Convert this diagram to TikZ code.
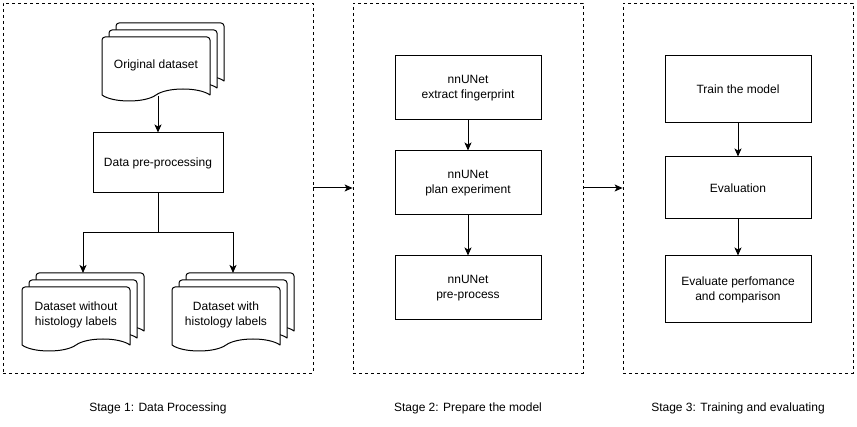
\documentclass[tikz,border=0pt]{standalone}
\usepackage{fontspec}
\setmainfont{Liberation Sans}
\usetikzlibrary{arrows.meta}
\tikzset{
  stagebox/.style={draw, line width=0.8pt, dash pattern=on 3pt off 3pt, inner sep=0pt},
  procbox/.style={draw, line width=1pt, fill=white, align=center, inner sep=0pt, font=\fontsize{12}{15}\selectfont},
  txt/.style={align=center, inner sep=0pt, font=\fontsize{12}{15}\selectfont},
  lbl/.style={inner sep=0pt, font=\fontsize{12}{15}\selectfont},
  docstyle/.style={draw, fill=white, line width=1pt, line join=round},
  conn/.style={line width=1pt},
  arr/.style={line width=1pt, -{Stealth[length=8pt,width=7pt,inset=2pt]}}
}
% one document shape: x y (top-left, pixels, y down), w h
\newcommand\onedoc[4]{%
  \filldraw[docstyle] ({#1},{-(#2)-(#4)}) -- ({#1},{-(#2)-3})
    arc[start angle=180,end angle=90,radius=3] -- ({(#1)+(#3)-3},{-(#2)})
    arc[start angle=90,end angle=0,radius=3] -- ({(#1)+(#3)},{-(#2)-(#4)})
    .. controls ({(#1)+0.9*(#3)},{-(#2)-(#4)+8}) and ({(#1)+0.6*(#3)},{-(#2)-(#4)+8}) .. ({(#1)+0.5*(#3)},{-(#2)-(#4)})
    .. controls ({(#1)+0.4*(#3)},{-(#2)-(#4)-8}) and ({(#1)+0.1*(#3)},{-(#2)-(#4)-8}) .. ({#1},{-(#2)-(#4)}) -- cycle;}
\newcommand\mdoc[4]{%
  \onedoc{#1+14}{#2-14}{#3}{#4}%
  \onedoc{#1+7}{#2-7}{#3}{#4}%
  \onedoc{#1}{#2}{#3}{#4}}
\begin{document}
\begin{tikzpicture}[x=1pt,y=1pt]
\useasboundingbox (0,0) rectangle (857,-427);
% stages
\node[stagebox, minimum width=310pt, minimum height=370pt] (s1) at (158,-188) {};
\node[stagebox, minimum width=230pt, minimum height=370pt] (s2) at (468,-188) {};
\node[stagebox, minimum width=230pt, minimum height=370pt] (s3) at (738,-188) {};
\node[lbl] (l1) at (158,-408) {Stage 1: Data Processing};
\node[lbl] (l2) at (468,-408) {Stage 2: Prepare the model};
\node[lbl] (l3) at (738,-408) {Stage 3: Training and evaluating};
\draw[arr] (s1.east) -- (s2.west);
\draw[arr] (s2.east) -- (s3.west);
% stage 1
\mdoc{102}{37}{108}{58}
\node[txt] (orig) at (156,-65) {Original dataset};
\coordinate (origbot) at (158,-96);
\node[procbox, minimum width=130pt, minimum height=60pt] (pre) at (158,-163) {Data pre-processing};
\draw[arr] (origbot) -- (pre.north);
\mdoc{22}{287}{108}{58}
\node[txt] (dwo) at (76,-315) {Dataset without\\histology labels};
\coordinate (dwotop) at (83,-273);
\mdoc{172}{287}{108}{58}
\node[txt] (dw) at (226,-315) {Dataset with\\histology labels};
\coordinate (dwtop) at (233,-273);
\coordinate (split) at (158,-233);
\draw[conn] (pre.south) -- (split);
\draw[arr] (split) -| (dwotop);
\draw[arr] (split) -| (dwtop);
% stage 2
\node[procbox, minimum width=146pt, minimum height=64pt] (f1) at (468,-88) {nnUNet\\extract fingerprint};
\node[procbox, minimum width=146pt, minimum height=64pt] (f2) at (468,-183) {nnUNet\\plan experiment};
\node[procbox, minimum width=146pt, minimum height=64pt] (f3) at (468,-288) {nnUNet\\pre-process};
\draw[arr] (f1) -- (f2);
\draw[arr] (f2) -- (f3);
% stage 3
\node[procbox, minimum width=146pt, minimum height=67pt] (t1) at (738,-89.5) {Train the model};
\node[procbox, minimum width=146pt, minimum height=62pt] (t2) at (738,-188) {Evaluation};
\node[procbox, minimum width=146pt, minimum height=67pt] (t3) at (738,-289.5) {Evaluate perfomance\\and comparison};
\draw[arr] (t1) -- (t2);
\draw[arr] (t2) -- (t3);
\end{tikzpicture}
\end{document}
